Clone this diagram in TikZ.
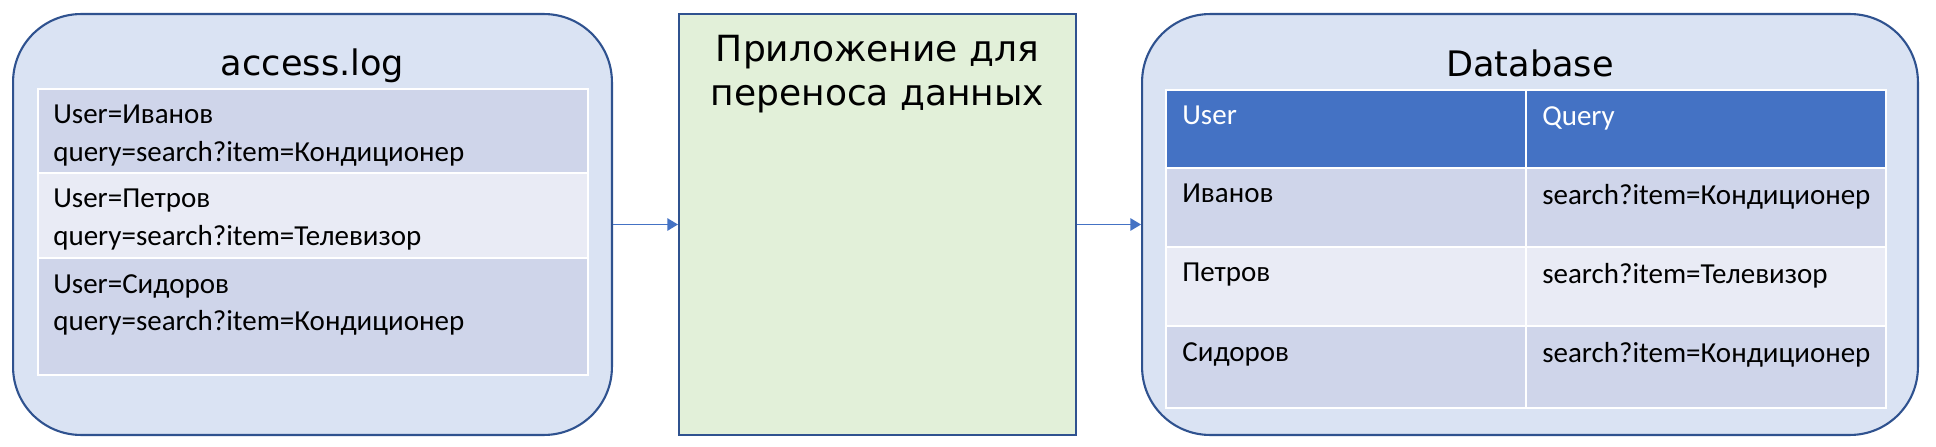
\documentclass[tikz,border=0pt]{standalone}
\usepackage{fontspec}
\setmainfont{Carlito}
\newfontfamily\titlefont{DejaVu Sans}
\usetikzlibrary{arrows.meta,positioning}
\definecolor{boxblue}{HTML}{DAE3F3}
\definecolor{edgeblue}{HTML}{2F528F}
\definecolor{appgreen}{HTML}{E2F0D9}
\definecolor{headblue}{HTML}{4472C4}
\definecolor{rowdark}{HTML}{CFD5EA}
\definecolor{rowlight}{HTML}{E9EBF5}
\tikzstyle{line} = [draw=headblue, line width=0.8pt, -{Triangle[length=6pt,width=7pt]}]
\tikzstyle{panel} = [draw=edgeblue, fill=boxblue, line width=1.2pt, rounded corners=1.36cm, minimum height=8.42cm]
\tikzstyle{title} = [font=\titlefont\fontsize{20}{24}\selectfont, inner sep=0pt]
\tikzstyle{apptext} = [font=\titlefont\fontsize{20.5}{25}\selectfont, align=center, inner sep=0pt]
\tikzstyle{cell} = [draw=white, line width=1.5pt, inner sep=0pt, outer sep=0pt]
\tikzstyle{celltext} = [font=\fontsize{16.5}{21.5}\selectfont, align=left, inner sep=0pt]

\begin{document}
\begin{tikzpicture}[x=0.02cm, y=-0.02cm]
        \useasboundingbox (0,0) rectangle (1936,446);
        % the three boxes
        \node[panel, minimum width=11.98cm] (log) at (312.5,224.5) {};
        \node[draw=edgeblue, fill=appgreen, line width=1.2pt, minimum width=7.94cm, minimum height=8.42cm] (app) at (877.5,224.5) {};
        \node[panel, minimum width=15.52cm] (db) at (1530,224.5) {};
        \node[title, anchor=base] (logtitle) at (312.5,76) {access.log};
        \node[title, anchor=base] (dbtitle) at (1530,77) {Database};
        \node[apptext, anchor=north] (apptitle) at (877.5,35) {Приложение для\\переноса данных};
        % access.log records
        \node[cell, fill=rowdark, anchor=north west, minimum width=11cm, minimum height=1.68cm] (lrow1) at (38,89) {};
        \node[cell, fill=rowlight, minimum width=11cm, minimum height=1.7cm, below=0pt of lrow1] (lrow2) {};
        \node[cell, fill=rowdark, minimum width=11cm, minimum height=2.34cm, below=0pt of lrow2] (lrow3) {};
        \node[celltext, below right=0.32cm and 0.3cm of lrow1.north west] (ltxt1) {User=Иванов\\query=search?item=Кондиционер};
        \node[celltext, below right=0.32cm and 0.3cm of lrow2.north west] (ltxt2) {User=Петров\\query=search?item=Телевизор};
        \node[celltext, below right=0.32cm and 0.3cm of lrow3.north west] (ltxt3) {User=Сидоров\\query=search?item=Кондиционер};
        % database table
        \node[cell, fill=headblue, anchor=north west, minimum width=7.2cm, minimum height=1.56cm] (huser) at (1166,90) {};
        \node[cell, fill=headblue, minimum width=7.2cm, minimum height=1.56cm, right=0pt of huser] (hquery) {};
        \node[cell, fill=rowdark, minimum width=7.2cm, minimum height=1.58cm, below=0pt of huser] (user1) {};
        \node[cell, fill=rowdark, minimum width=7.2cm, minimum height=1.58cm, right=0pt of user1] (query1) {};
        \node[cell, fill=rowlight, minimum width=7.2cm, minimum height=1.58cm, below=0pt of user1] (user2) {};
        \node[cell, fill=rowlight, minimum width=7.2cm, minimum height=1.58cm, right=0pt of user2] (query2) {};
        \node[cell, fill=rowdark, minimum width=7.2cm, minimum height=1.64cm, below=0pt of user2] (user3) {};
        \node[cell, fill=rowdark, minimum width=7.2cm, minimum height=1.64cm, right=0pt of user3] (query3) {};
        \node[celltext, text=white, below right=0.32cm and 0.32cm of huser.north west] {User};
        \node[celltext, text=white, below right=0.32cm and 0.32cm of hquery.north west] {Query};
        \node[celltext, below right=0.32cm and 0.32cm of user1.north west] {Иванов};
        \node[celltext, below right=0.32cm and 0.32cm of query1.north west] {search?item=Кондиционер};
        \node[celltext, below right=0.32cm and 0.32cm of user2.north west] {Петров};
        \node[celltext, below right=0.32cm and 0.32cm of query2.north west] {search?item=Телевизор};
        \node[celltext, below right=0.32cm and 0.32cm of user3.north west] {Сидоров};
        \node[celltext, below right=0.32cm and 0.32cm of query3.north west] {search?item=Кондиционер};
        % flow
        \path[line] (log) -- (app);
        \path[line] (app) -- (db);
    \end{tikzpicture}
\end{document}
